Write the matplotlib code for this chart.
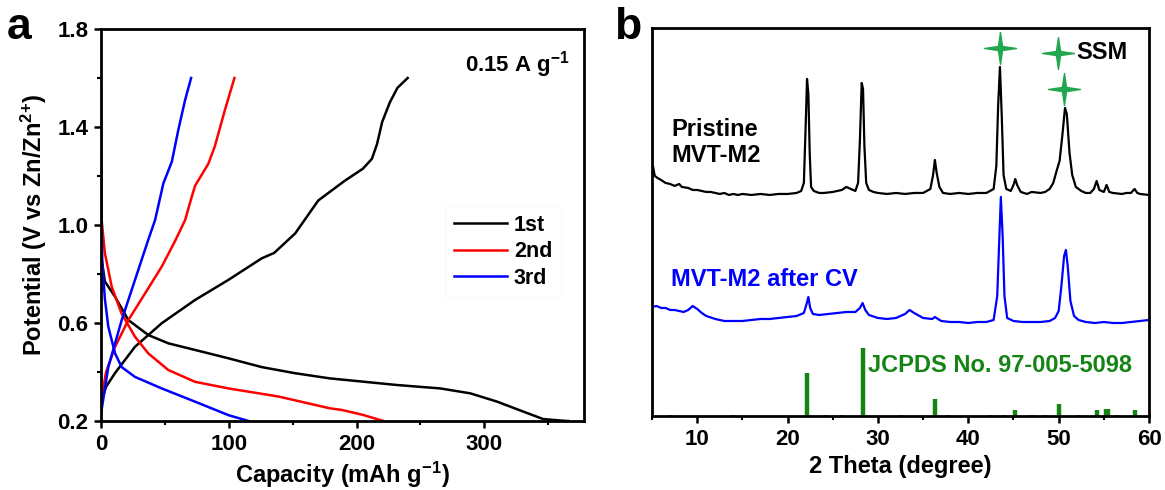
import matplotlib
matplotlib.use("Agg")
import matplotlib.pyplot as plt
from matplotlib.path import Path
from matplotlib.ticker import MultipleLocator, FixedLocator

plt.rcParams['font.family'] = ['Liberation Sans', 'DejaVu Sans']
plt.rcParams['font.weight'] = 'bold'
plt.rcParams['mathtext.fontset'] = 'custom'
plt.rcParams['mathtext.rm'] = 'Liberation Sans:bold'
plt.rcParams['mathtext.bf'] = 'Liberation Sans:bold'
plt.rcParams['mathtext.default'] = 'rm'

# ---- panel a: galvanostatic charge/discharge, capacity (mAh/g) vs potential (V)
cap_1st_dis = [0.3, 0.5, 3, 11, 21.4, 37, 52.7, 73.6, 99.7, 125.8, 152, 179, 231.5, 265.5, 289, 310, 330.7, 346, 362, 366]
v_1st_dis = [0.93, 0.86, 0.77, 0.707, 0.612, 0.551, 0.517, 0.49, 0.456, 0.42, 0.395, 0.374, 0.347, 0.333, 0.313, 0.279, 0.238, 0.208, 0.201, 0.2]
cap_1st_chg = [0, 0.5, 4, 11, 26.6, 47.5, 73.6, 99.7, 125.8, 135.5, 152, 170, 190.6, 205, 212, 216, 220, 226, 232, 240]
v_1st_chg = [0.26, 0.286, 0.34, 0.396, 0.503, 0.599, 0.694, 0.776, 0.864, 0.886, 0.966, 1.1, 1.18, 1.23, 1.27, 1.33, 1.42, 1.5, 1.56, 1.6]

cap_2nd_dis = [0.3, 0.5, 3, 8.4, 16, 26.6, 37, 52.7, 73.6, 99.7, 138.8, 179, 188.5, 205, 221]
v_2nd_dis = [1.11, 1.02, 0.886, 0.748, 0.64, 0.544, 0.476, 0.408, 0.36, 0.333, 0.3, 0.252, 0.245, 0.225, 0.2]
cap_2nd_chg = [0, 0.5, 4, 11, 21.4, 34.5, 47.5, 58, 65.8, 71, 73.6, 84, 89, 97, 104.4]
v_2nd_chg = [0.24, 0.3, 0.4, 0.503, 0.612, 0.721, 0.83, 0.935, 1.02, 1.115, 1.16, 1.25, 1.32, 1.47, 1.6]

cap_3rd_dis = [0, 0.3, 0.5, 1, 3, 5.7, 11, 16.2, 26.6, 47.5, 73.6, 99.7, 115.4]
v_3rd_dis = [1.56, 1.2, 1.0, 0.85, 0.7, 0.585, 0.476, 0.42, 0.38, 0.333, 0.279, 0.224, 0.2]
cap_3rd_chg = [0, 5.7, 16.2, 26.6, 37, 42.3, 48.8, 55.4, 60.5, 65.8, 70.5]
v_3rd_chg = [0.23, 0.42, 0.612, 0.776, 0.94, 1.02, 1.17, 1.258, 1.388, 1.51, 1.6]

pot_ticks = [0.2, 0.6, 1.0, 1.4, 1.8]
pot_minor = [0.4, 0.8, 1.2, 1.6]

# ---- panel b: XRD patterns (offset intensities, a.u.)
tt_pristine = [5.0, 5.1, 5.3, 5.6, 6.0, 6.5, 7.0, 7.5, 8.0, 8.3, 9.0, 9.5, 10.0, 10.5, 11.0, 11.5, 12.0, 12.5,
               13.0, 13.5, 14.0, 14.5, 15.0, 16.0, 17.0, 18.0, 19.0, 20.0, 21.0, 21.5, 21.8, 22.0, 22.15, 22.3,
               22.45, 22.6, 22.9, 23.5, 24.0, 25.0, 25.5, 26.0, 26.5, 27.0, 27.5, 27.8, 28.0, 28.2, 28.35, 28.5,
               28.7, 29.0, 29.5, 30.0, 31.0, 32.0, 33.0, 34.0, 35.0, 35.8, 36.1, 36.3, 36.5, 36.8, 37.2, 38.0,
               39.0, 40.0, 41.0, 42.0, 42.8, 43.1, 43.3, 43.5, 43.7, 43.9, 44.2, 44.7, 45.0, 45.2, 45.4, 45.8,
               46.5, 47.0, 48.0, 48.5, 49.0, 49.4, 49.8, 50.1, 50.4, 50.7, 50.9, 51.2, 51.5, 51.9, 52.5, 53.0,
               53.5, 53.9, 54.2, 54.5, 55.0, 55.3, 55.6, 56.0, 57.0, 57.5, 58.0, 58.4, 58.7, 59.0, 60.0]
int_pristine = [244, 250, 240, 238, 236, 233, 232, 230, 232, 229, 228, 226, 226, 225, 224, 224, 223, 222,
                223, 221, 222, 221, 222, 221, 222, 221, 222, 222, 223, 225, 233, 290, 337, 322, 262, 229, 225,
                223, 223, 224, 225, 226, 229, 227, 225, 233, 275, 333, 327, 270, 233, 226, 224, 223, 222, 223,
                222, 223, 223, 227, 241, 256, 243, 229, 223, 222, 223, 222, 223, 223, 227, 250, 310, 349, 300,
                241, 227, 225, 231, 237, 231, 224, 222, 224, 223, 224, 227, 233, 246, 255, 280, 308, 302, 263,
                241, 229, 225, 223, 223, 227, 235, 226, 224, 231, 224, 223, 222, 223, 223, 227, 223, 222, 221]

tt_after_cv = [5.0, 5.5, 6.0, 6.5, 7.0, 7.5, 8.0, 8.5, 9.0, 9.5, 10.0, 10.5, 11.0, 12.0, 13.0, 14.0, 15.0,
               16.0, 17.0, 18.0, 19.0, 20.0, 21.0, 21.8, 22.1, 22.3, 22.5, 22.8, 23.5, 24.5, 25.5, 26.5, 27.5,
               28.0, 28.3, 28.6, 29.0, 30.0, 31.0, 32.0, 33.0, 33.5, 34.0, 35.0, 36.0, 36.3, 37.0, 38.0, 39.0,
               40.0, 41.0, 42.0, 42.8, 43.2, 43.4, 43.6, 43.8, 44.0, 44.3, 45.0, 46.0, 47.0, 48.0, 49.0, 49.6,
               50.0, 50.3, 50.6, 50.8, 51.0, 51.3, 51.7, 52.2, 53.0, 54.0, 55.0, 56.0, 57.0, 58.0, 59.0, 60.0]
int_after_cv = [109, 110, 108, 108, 106, 106, 105, 104, 106, 110, 107, 103, 100, 97, 95, 95, 95,
                96, 97, 97, 98, 99, 100, 103, 112, 119, 108, 102, 101, 102, 103, 104, 104,
                108, 113, 106, 101, 98, 97, 98, 102, 106, 103, 98, 97, 99, 95, 94, 94,
                93, 94, 94, 96, 120, 170, 219, 180, 120, 98, 95, 94, 94, 94, 95, 98,
                105, 130, 160, 166, 150, 115, 100, 96, 94, 93, 94, 93, 93, 94, 95, 96]

ref_pos = [7.0, 14.0, 22.2, 24.2, 26.0, 28.3, 32.5, 36.3, 37.8, 42.5, 44.0, 45.2, 47.0, 48.5, 50.0, 52.3, 54.2, 55.2, 55.5, 56.5, 58.5]
ref_int = [1, 1, 43, 1, 1, 68, 1, 17, 1, 1, 1, 6, 1, 1, 12, 1, 6, 7, 7, 1, 6]

ssm_pos = [43.5, 49.9, 50.55]
ssm_int = [368, 363, 327]

fig = plt.figure(figsize=(11.65, 4.9), dpi=100)
ax1 = fig.add_axes([0.0867, 0.1408, 0.4146, 0.80])
ax2 = fig.add_axes([0.5597, 0.151, 0.4266, 0.792])

# panel a
ax1.plot(cap_1st_chg, v_1st_chg, color='black', lw=1.8, label='1st')
ax1.plot(cap_1st_dis, v_1st_dis, color='black', lw=1.8)
ax1.plot(cap_2nd_chg, v_2nd_chg, color='#ff0000', lw=1.8, label='2nd')
ax1.plot(cap_2nd_dis, v_2nd_dis, color='#ff0000', lw=1.8)
ax1.plot(cap_3rd_chg, v_3rd_chg, color='#0000ff', lw=1.8, label='3rd')
ax1.plot(cap_3rd_dis, v_3rd_dis, color='#0000ff', lw=1.8)
ax1.set_xlim(0, 378)
ax1.set_ylim(0.2, 1.8)
ax1.xaxis.set_major_locator(MultipleLocator(100))
ax1.xaxis.set_minor_locator(MultipleLocator(50))
ax1.yaxis.set_major_locator(FixedLocator(pot_ticks))
ax1.yaxis.set_minor_locator(FixedLocator(pot_minor))
ax1.set_yticklabels([f'{v:.1f}' for v in pot_ticks])
ax1.set_xlabel(r'Capacity (mAh g$^{-1}$)', fontsize=17, fontweight='bold', labelpad=4)
ax1.set_ylabel(r'Potential (V vs Zn/Zn$^{2{+}}$)', fontsize=17, fontweight='bold', labelpad=6)
ax1.text(0.97, 0.91, r'0.15 A g$^{-1}$', transform=ax1.transAxes, ha='right', va='center',
         fontsize=16, fontweight='bold')
leg = ax1.legend(loc='upper left', bbox_to_anchor=(0.69, 0.575), fontsize=15.5, frameon=True,
                 fancybox=False, handlelength=2.5, handletextpad=0.3, labelspacing=0.25,
                 borderpad=0.4)
leg.get_frame().set_edgecolor('#f8f8f8')
leg.get_frame().set_linewidth(0.8)
for t in leg.get_texts():
    t.set_fontweight('bold')

# panel b
ax2.plot(tt_pristine, int_pristine, color='black', lw=1.6)
ax2.plot(tt_after_cv, int_after_cv, color='#0000ff', lw=1.6)
ax2.vlines(ref_pos, 0, ref_int, color='#148414', lw=3.2)
star = Path([(0, 1), (0.13, 0.13), (1, 0), (0.13, -0.13), (0, -1), (-0.13, -0.13), (-1, 0), (-0.13, 0.13), (0, 1)],
            [Path.MOVETO] + [Path.LINETO] * 7 + [Path.CLOSEPOLY])
ax2.plot(ssm_pos, ssm_int, linestyle='none', marker=star, markersize=23, color='#22a750', mec='#22a750')
ax2.text(52.0, 363, 'SSM', fontsize=17, fontweight='bold', va='center', ha='left')
ax2.text(7.1, 298, 'Pristine\nMVT-M2', fontsize=17, fontweight='bold', va='top', ha='left', linespacing=1.15)
ax2.text(7.1, 136, 'MVT-M2 after CV', fontsize=17, fontweight='bold', va='center', ha='left', color='#0000ff')
ax2.text(28.9, 50, 'JCPDS No. 97-005-5098', fontsize=17, fontweight='bold', va='center', ha='left', color='#148414')
ax2.set_xlim(5, 60)
ax2.set_ylim(0, 388)
ax2.xaxis.set_major_locator(MultipleLocator(10))
ax2.xaxis.set_minor_locator(MultipleLocator(5))
ax2.set_yticks([])
ax2.set_xlabel('2 Theta (degree)', fontsize=17, fontweight='bold', labelpad=4)

for ax in (ax1, ax2):
    for s in ax.spines.values():
        s.set_linewidth(2)
    ax.tick_params(which='major', direction='out', length=5, width=1.8, labelsize=16, pad=4)
    ax.tick_params(which='minor', direction='out', length=3, width=1.5)
    for lab in ax.get_xticklabels() + ax.get_yticklabels():
        lab.set_fontweight('bold')

fig.text(0.006, 0.943, 'a', fontsize=32, fontweight='bold', va='center', ha='left')
fig.text(0.527, 0.943, 'b', fontsize=32, fontweight='bold', va='center', ha='left')

fig.savefig('out.png', dpi=100)
